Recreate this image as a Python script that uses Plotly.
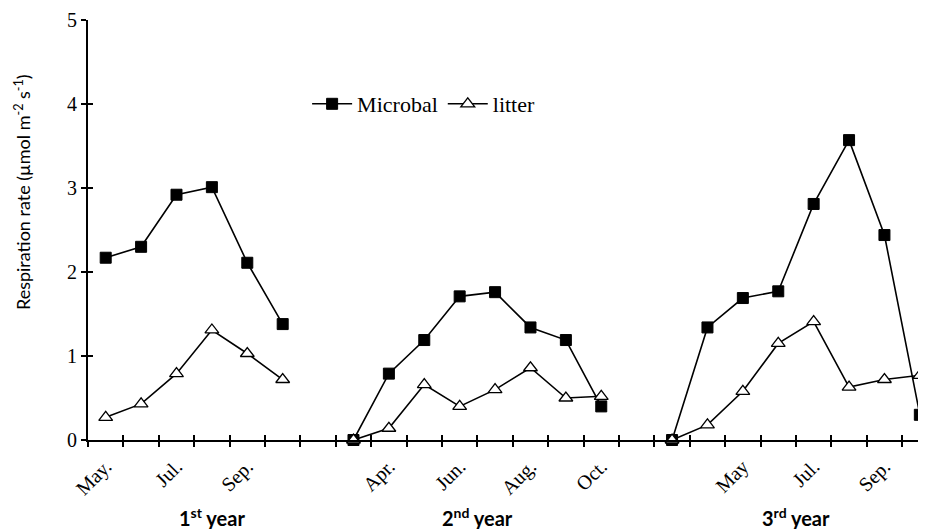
import plotly.graph_objects as go

# categories (one per month slot; None slots are gaps between years)
months = ["May.", "Jun.", "Jul.", "Aug.", "Sep.", "Oct.", "",
          "Mar.", "Apr.", "May.", "Jun.", "Jul.", "Aug.", "Sep.", "Oct.", "",
          "Mar.", "Apr.", "May", "Jun.", "Jul.", "Aug.", "Sep.", "Oct."]

microbial = [2.17, 2.30, 2.92, 3.01, 2.11, 1.38, None,
             0.0, 0.79, 1.19, 1.71, 1.76, 1.34, 1.19, 0.40, None,
             0.0, 1.34, 1.69, 1.77, 2.81, 3.57, 2.44, 0.30]

litter = [0.27, 0.43, 0.79, 1.31, 1.03, 0.72, None,
          0.0, 0.14, 0.66, 0.40, 0.60, 0.86, 0.50, 0.52, None,
          0.0, 0.18, 0.58, 1.15, 1.41, 0.63, 0.72, 0.77]

tick_positions = [0, 2, 4, 8, 10, 12, 14, 18, 20, 22]
tick_labels = ["May.", "Jul.", "Sep.", "Apr.", "Jun.", "Aug.", "Oct.", "May", "Jul.", "Sep."]

year_labels = ["1<sup>st</sup> year", "2<sup>nd</sup> year", "3<sup>rd</sup> year"]
year_centers = [3, 10.5, 19.5]

y_title = "Respiration rate (µmol m<sup>-2</sup> s<sup>-1</sup>)"

x = list(range(len(months)))
boundaries = [i - 0.5 for i in range(len(months) + 1)]
xrange = [-0.5, 23.4]

fig = go.Figure()
fig.add_trace(go.Scatter(
    x=x, y=microbial, name="Microbal", mode="lines+markers",
    line=dict(color="black", width=1.6),
    marker=dict(symbol="square", size=11, color="black", line=dict(color="black", width=1)),
    connectgaps=False, cliponaxis=False))
fig.add_trace(go.Scatter(
    x=x, y=litter, name="litter", mode="lines+markers",
    line=dict(color="black", width=1.6),
    marker=dict(symbol="triangle-up", size=12, color="white", line=dict(color="black", width=1.3)),
    connectgaps=False, cliponaxis=False))
# helper trace to render the overlay axes (inside half of crossing tick marks)
fig.add_trace(go.Scatter(x=x, y=microbial, xaxis="x2", yaxis="y2", mode="lines",
                         line=dict(color="rgba(0,0,0,0)"), showlegend=False, hoverinfo="skip"))

for lbl, cx in zip(year_labels, year_centers):
    fig.add_annotation(x=cx, y=-0.183, xref="x", yref="paper", text="<b>" + lbl + "</b>",
                       showarrow=False, yanchor="middle", xanchor="center",
                       font=dict(family="Lato, Open Sans", size=20, color="black"))

fig.add_annotation(x=-0.077, y=0.59, xref="paper", yref="paper", text=y_title,
                   textangle=-90, showarrow=False, xanchor="center", yanchor="middle",
                   font=dict(family="Lato, Open Sans", size=18, color="black"))

fig.update_layout(
    width=926, height=529,
    margin=dict(l=80, r=0, t=12, b=97),
    paper_bgcolor="white", plot_bgcolor="white",
    showlegend=True,
    legend=dict(orientation="h", x=0.259, y=0.8, xanchor="left", yanchor="middle",
                font=dict(family="Liberation Serif", size=22, color="black"),
                bgcolor="rgba(0,0,0,0)", itemwidth=40, tracegroupgap=0),
    xaxis=dict(range=xrange, showline=True, linecolor="black", linewidth=2,
               showgrid=False, zeroline=False, automargin=False,
               tickmode="array", tickvals=tick_positions, ticktext=tick_labels,
               ticks="", tickangle=-45, ticklabelstandoff=5,
               tickfont=dict(family="Liberation Serif", size=20, color="black"),
               minor=dict(tickmode="array", tickvals=boundaries, ticks="outside",
                          ticklen=5, tickwidth=1.5, tickcolor="black", showgrid=False)),
    xaxis2=dict(range=xrange, overlaying="x", anchor="y2", side="bottom", automargin=False,
                showline=False, showgrid=False, zeroline=False,
                tickmode="array", tickvals=boundaries, ticks="inside",
                ticklen=5, tickwidth=1.5, tickcolor="black", showticklabels=False),
    yaxis=dict(range=[0, 5], showline=True, linecolor="black", linewidth=2,
               showgrid=False, zeroline=False, automargin=False,
               tickmode="array", tickvals=[0, 1, 2, 3, 4, 5], ticks="outside",
               ticklen=5, tickwidth=1.5, tickcolor="black",
               tickfont=dict(family="Liberation Serif", size=20, color="black")),
    yaxis2=dict(range=[0, 5], overlaying="y", anchor="x2", side="left", automargin=False,
                showline=False, showgrid=False, zeroline=False,
                tickmode="array", tickvals=[1, 2, 3, 4], ticks="inside",
                ticklen=5, tickwidth=1.5, tickcolor="black", showticklabels=False),
)

fig.write_html("out.html")
